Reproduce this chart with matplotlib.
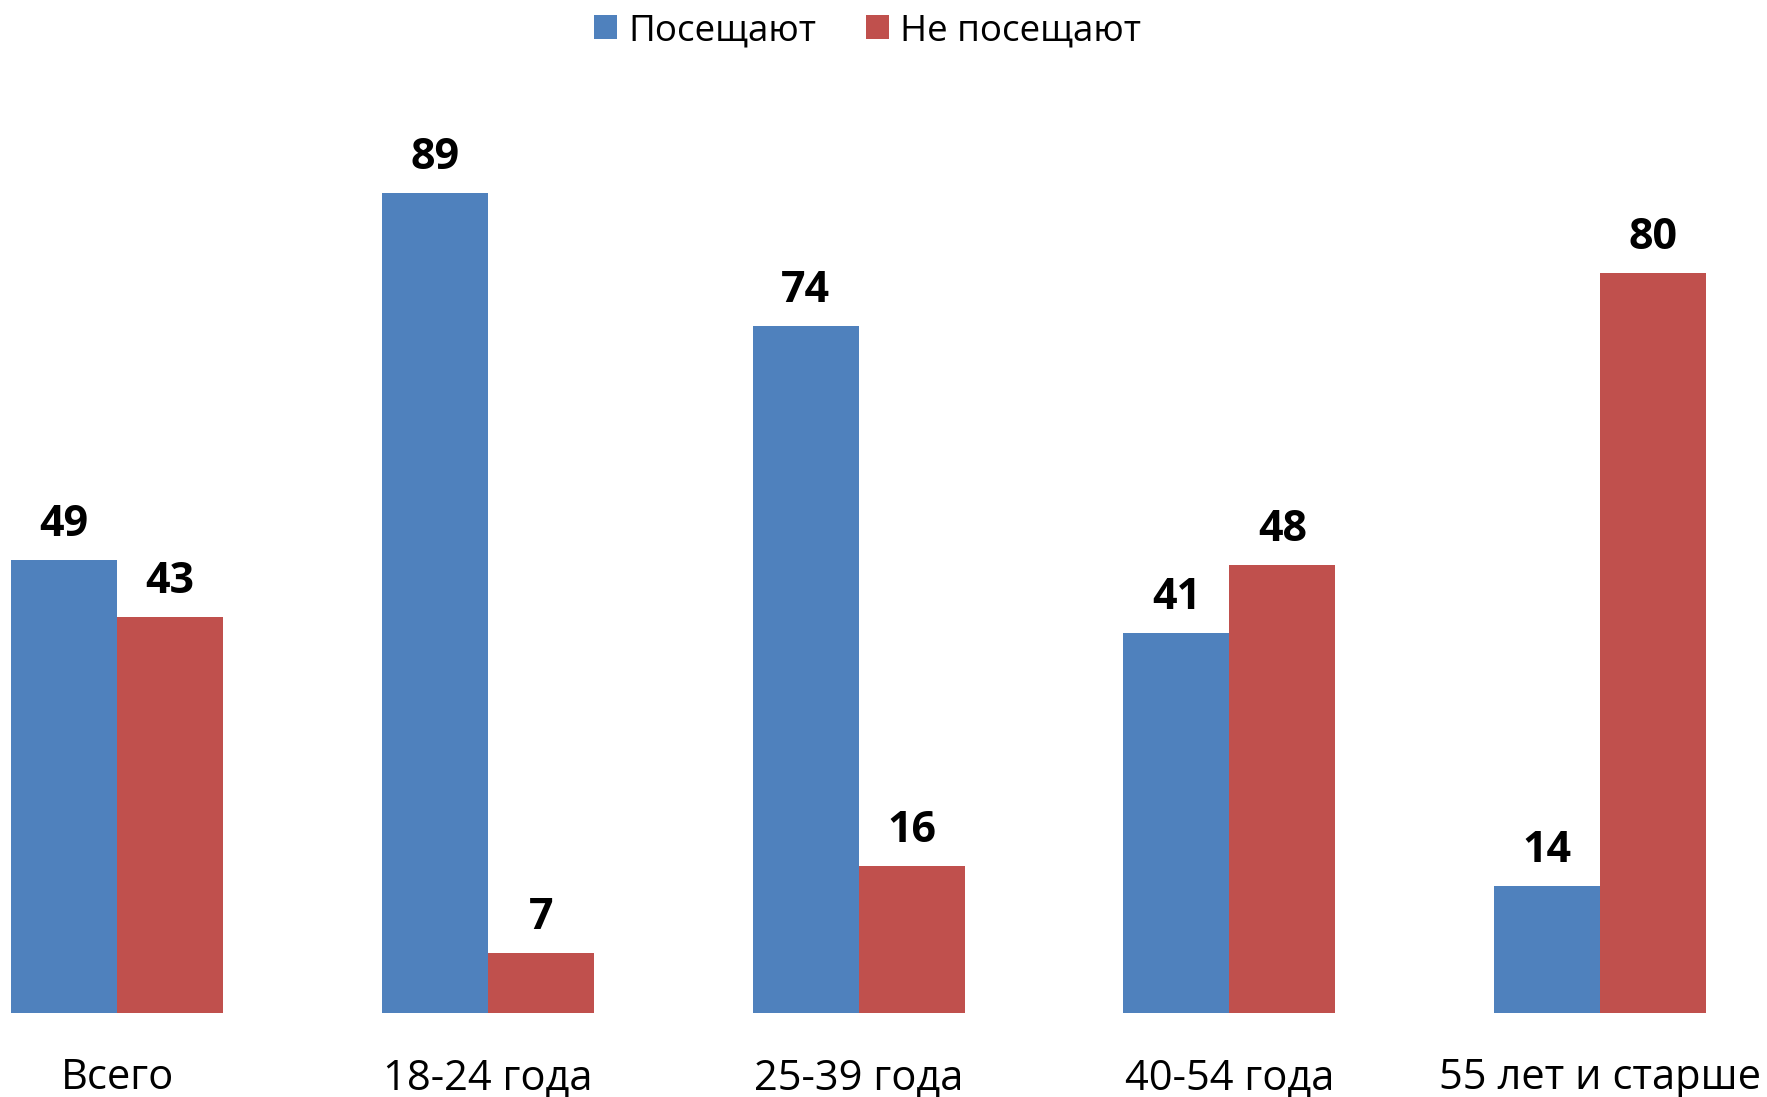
import numpy as np
import matplotlib.pyplot as plt

plt.rcParams["font.family"] = ["Open Sans", "DejaVu Sans"]

categories = ["Всего", "18-24 года", "25-39 года", "40-54 года", "55 лет и старше"]
# bar heights (source values are unrounded)
visit = [49.2, 89.0, 74.6, 41.3, 13.8]
no_visit = [43.0, 6.5, 16.0, 48.6, 80.3]
# printed labels
visit_labels = [49, 89, 74, 41, 14]
no_visit_labels = [43, 7, 16, 48, 80]
series_names = ["Посещают", "Не посещают"]
colors = ["#4F81BD", "#C0504D"]

fig = plt.figure(figsize=(17.67, 10.97), dpi=100)
ax = fig.add_axes([0, 0.0766, 1, 0.8396])

x = np.arange(len(categories))
width = 0.2857

bars_a = ax.bar(x - width / 2, visit, width, color=colors[0], label=series_names[0])
bars_b = ax.bar(x + width / 2, no_visit, width, color=colors[1], label=series_names[1])

for bars, labels in ((bars_a, visit_labels), (bars_b, no_visit_labels)):
    for b, lab in zip(bars, labels):
        ax.annotate(str(lab),
                    (b.get_x() + b.get_width() / 2, b.get_height()),
                    xytext=(0, 10), textcoords="offset points",
                    ha="center", va="bottom", fontsize=31, fontweight="bold")

ax.set_xlim(-0.3156, 4.450)
ax.set_ylim(0, 100)
ax.set_xticks(x)
ax.set_xticklabels(categories, fontsize=30)
ax.tick_params(axis="x", length=0, pad=32)
ax.set_yticks([])
for s in ax.spines.values():
    s.set_visible(False)

fig.legend(loc="upper center", bbox_to_anchor=(0.491, 1.018), ncol=2, frameon=False,
           fontsize=26.5, handlelength=0.62, handleheight=0.62, handletextpad=0.3,
           columnspacing=1.35)

plt.savefig("out.png", dpi=100)
plt.close()
